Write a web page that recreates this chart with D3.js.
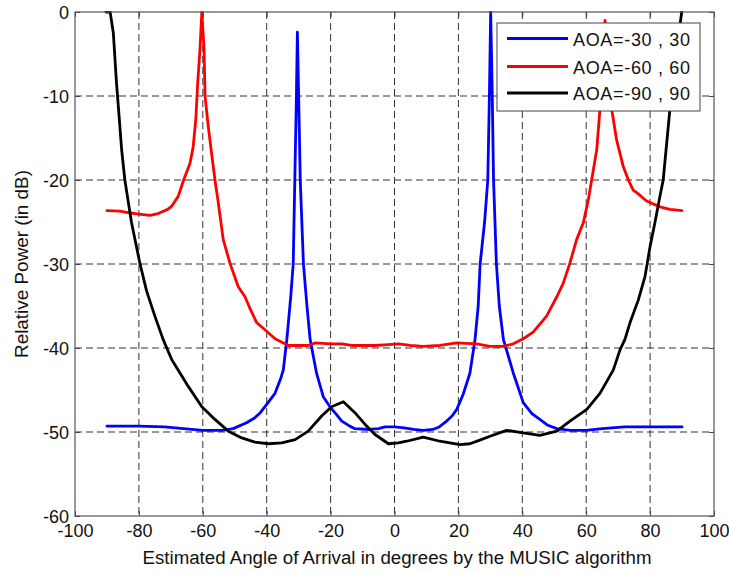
<!DOCTYPE html>
<html>
<head>
<meta charset="utf-8">
<script src="https://cdn.jsdelivr.net/npm/d3@7"></script>
<style>
  html, body { margin: 0; padding: 0; background: #fff; }
  svg { display: block; font-family: Arial, "Liberation Sans", sans-serif; }
</style>
</head>
<body>
<svg id="chart" width="729" height="573"></svg>
<script>
// ---- data ----
const xTicks = [-100, -80, -60, -40, -20, 0, 20, 40, 60, 80, 100];
const yTicks = [-60, -50, -40, -30, -20, -10, 0];
const seriesNames = ["AOA=-30 , 30", "AOA=-60 , 60", "AOA=-90 , 90"];
const seriesColors = ["#0000ff", "#ff0000", "#000000"];

const blueAngle = [-90,-80,-72,-66,-60,-54,-50.5,-46.3,-43.7,-42,-40,-37.4,-35.5,-34.8,-33.7,-32.5,-31.7,-31.2,-30.7,-30.4,-30.0,-29.5,-28.5,-27.4,-26.4,-24.4,-22.3,-20.2,-18,-16.5,-14,-12.4,-8,-5,-3,0,3,6,9,12,14,16,18,19.5,21.5,23.6,25.2,26.2,26.8,28.2,29.2,29.7,30.1,30.6,31.0,31.9,32.8,34.1,37.2,40.3,43,45.5,48,50.8,55,60,65,72,80,90];
const bluePower = [-49.3,-49.3,-49.4,-49.6,-49.8,-49.8,-49.6,-48.9,-48.3,-47.7,-46.7,-45.4,-43.5,-42.6,-39,-34,-30,-20,-10,-2.4,-10,-20,-30,-35,-39,-43,-45.8,-47,-48,-48.7,-49.3,-49.6,-49.7,-49.6,-49.4,-49.4,-49.5,-49.7,-49.8,-49.7,-49.4,-48.8,-48.1,-47.3,-45.5,-43,-39,-35,-30,-25,-20,-10,0,-10,-20,-30,-35,-39,-43,-46.5,-47.8,-48.5,-49.2,-49.6,-49.8,-49.8,-49.6,-49.4,-49.4,-49.4];

const redAngle = [-90,-86,-83,-80,-76.5,-74,-72.9,-71,-69.7,-67.7,-66,-64,-63,-62.2,-61.6,-60.9,-60.3,-59.6,-59.3,-58.3,-57,-56,-55.3,-53.6,-51.5,-48.9,-46.8,-45,-43.1,-40,-37.4,-33.2,-27,-24.9,-20,-16.5,-13.4,-6.1,-2,1.2,5,9,14.2,19.5,25.7,29.9,34.1,37.2,40.3,43.4,47.6,50.8,52.8,54.9,57,59.1,60.7,61.7,63.3,64.3,65.3,65.9,66.6,68,69.5,71.6,73.2,74.7,75.8,78.9,83.1,86.2,90];
const redPower = [-23.65,-23.7,-23.9,-24.05,-24.2,-24,-23.8,-23.5,-23.1,-21.95,-20,-18,-16,-12.8,-8.5,-4.5,0,-4.5,-10,-13.6,-17.6,-20.5,-22.3,-27.1,-29.9,-32.7,-33.9,-35.5,-37,-38,-38.9,-39.7,-39.7,-39.4,-39.5,-39.5,-39.7,-39.7,-39.6,-39.5,-39.7,-39.8,-39.7,-39.4,-39.5,-39.8,-39.8,-39.5,-38.9,-38.1,-36.2,-33.9,-32.3,-29.9,-27.1,-25.1,-22.3,-20,-16.4,-11.6,-6,-1,-6,-11.6,-15.2,-18.4,-20,-21.2,-21.5,-22.5,-23.2,-23.5,-23.65];

const blackAngle = [-90.3,-89,-88,-87,-86.2,-85.4,-84.4,-82.3,-79.7,-77.6,-75,-72.4,-69.7,-64.5,-60.3,-56.2,-52,-47.8,-43.7,-39.5,-35.3,-31.1,-27,-22.8,-19.7,-16,-12.4,-9.2,-6.1,-1.9,1.2,3.8,9,14.2,20.5,23.6,26.5,29.9,35.1,40.3,45.5,50.8,54.9,60.2,64.3,68.5,70.6,72.1,73.7,76.3,78.4,80,81.5,82.9,84.1,86.2,88.3,89.9];
const blackPower = [0,0,-2.5,-8.5,-12.4,-16.4,-20,-25.1,-29.9,-33.2,-36.2,-39,-41.4,-44.6,-47,-48.5,-49.9,-50.7,-51.2,-51.4,-51.3,-50.9,-49.9,-48.1,-47,-46.4,-47.7,-49.1,-50.3,-51.4,-51.3,-51.1,-50.6,-51.1,-51.5,-51.4,-51,-50.5,-49.8,-50.1,-50.4,-49.9,-48.7,-47.3,-45.4,-42.6,-40.2,-39,-37,-34.3,-31.5,-27.9,-25.1,-22.3,-20,-11.6,-4.5,0];

// ---- layout ----
const svg = d3.select("#chart");
const L = 75, R = 714, T = 12, B = 516;
const x = d3.scaleLinear().domain([-100, 100]).range([L, R]);
const y = d3.scaleLinear().domain([-60, 0]).range([B, T]);
const fmt = d => String(d);

svg.append("rect").attr("x", 0).attr("y", 0).attr("width", 729).attr("height", 573).attr("fill", "#fff");

svg.append("defs").append("clipPath").attr("id", "plotclip")
  .append("rect").attr("x", L).attr("y", T - 1).attr("width", R - L).attr("height", B - T + 1);

// grid
const grid = svg.append("g");
grid.selectAll("line.vg").data(xTicks.filter(d => d > -100 && d < 100)).enter().append("line")
  .attr("x1", d => x(d)).attr("x2", d => x(d)).attr("y1", T).attr("y2", B)
  .attr("stroke", "#333").attr("stroke-width", 1).attr("stroke-dasharray", "7,4");
grid.selectAll("line.hg").data(yTicks.filter(d => d > -60 && d < 0)).enter().append("line")
  .attr("x1", L).attr("x2", R).attr("y1", d => y(d)).attr("y2", d => y(d))
  .attr("stroke", "#333").attr("stroke-width", 1).attr("stroke-dasharray", "7,4");

// axes (ticks inside)
const xAxis = d3.axisBottom(x).tickValues(xTicks).tickFormat(fmt).tickSizeInner(-5).tickSizeOuter(0).tickPadding(8);
const yAxis = d3.axisLeft(y).tickValues(yTicks).tickFormat(fmt).tickSizeInner(-5).tickSizeOuter(0).tickPadding(6);
const gx = svg.append("g").attr("transform", `translate(0,${B})`).call(xAxis);
const gy = svg.append("g").attr("transform", `translate(${L},0)`).call(yAxis);
[gx, gy].forEach(g => {
  g.select(".domain").remove();
  g.selectAll(".tick line").attr("stroke", "#444");
  g.selectAll(".tick text").attr("fill", "#111").style("font-size", "18px")
    .style("font-family", "Arial, 'Liberation Sans', sans-serif");
});
gx.selectAll(".tick text").attr("dy", "0.71em");
gy.selectAll(".tick text").attr("dy", "0.36em");
// top / right ticks
svg.append("g").attr("transform", `translate(0,${T})`)
  .call(d3.axisTop(x).tickValues(xTicks).tickSizeInner(-5).tickSizeOuter(0).tickFormat(""))
  .call(g => { g.select(".domain").remove(); g.selectAll(".tick line").attr("stroke", "#444"); });
svg.append("g").attr("transform", `translate(${R},0)`)
  .call(d3.axisRight(y).tickValues(yTicks).tickSizeInner(-5).tickSizeOuter(0).tickFormat(""))
  .call(g => { g.select(".domain").remove(); g.selectAll(".tick line").attr("stroke", "#444"); });

// lines
const series = [
  { ax: blueAngle, pw: bluePower },
  { ax: redAngle, pw: redPower },
  { ax: blackAngle, pw: blackPower }
];
const line = d3.line().x(d => x(d[0])).y(d => y(d[1]));
const plot = svg.append("g").attr("clip-path", "url(#plotclip)");
series.forEach((s, i) => {
  const pts = s.ax.map((a, k) => [a, s.pw[k]]);
  plot.append("path").datum(pts).attr("d", line)
    .attr("fill", "none").attr("stroke", seriesColors[i])
    .attr("stroke-width", 2.8).attr("stroke-linejoin", "round").attr("stroke-linecap", "round");
});

// axes box
svg.append("rect").attr("x", L).attr("y", T).attr("width", R - L).attr("height", B - T)
  .attr("fill", "none").attr("stroke", "#555").attr("stroke-width", 1.2);

// axis labels
svg.append("text").attr("x", 397).attr("y", 564).attr("text-anchor", "middle")
  .style("font-size", "18px").attr("fill", "#111")
  .attr("textLength", 509).attr("lengthAdjust", "spacingAndGlyphs")
  .text("Estimated Angle of Arrival in degrees by the MUSIC algorithm");
svg.append("text").attr("transform", `translate(28,${(T + B) / 2}) rotate(-90)`)
  .attr("text-anchor", "middle").style("font-size", "18px").attr("fill", "#111")
  .attr("textLength", 188).attr("lengthAdjust", "spacingAndGlyphs")
  .text("Relative Power (in dB)");

// legend
const lg = svg.append("g");
lg.append("rect").attr("x", 497).attr("y", 23).attr("width", 203).attr("height", 88)
  .attr("fill", "#fff").attr("stroke", "#444").attr("stroke-width", 1);
const rowsY = [38.5, 66.5, 93];
seriesNames.forEach((n, i) => {
  lg.append("line").attr("x1", 507).attr("x2", 568).attr("y1", rowsY[i]).attr("y2", rowsY[i])
    .attr("stroke", seriesColors[i]).attr("stroke-width", 3);
  lg.append("text").attr("x", 573).attr("y", rowsY[i] + 7).style("font-size", "18px")
    .attr("fill", "#111").attr("textLength", 117).attr("lengthAdjust", "spacing").text(n);
});
</script>
</body>
</html>
